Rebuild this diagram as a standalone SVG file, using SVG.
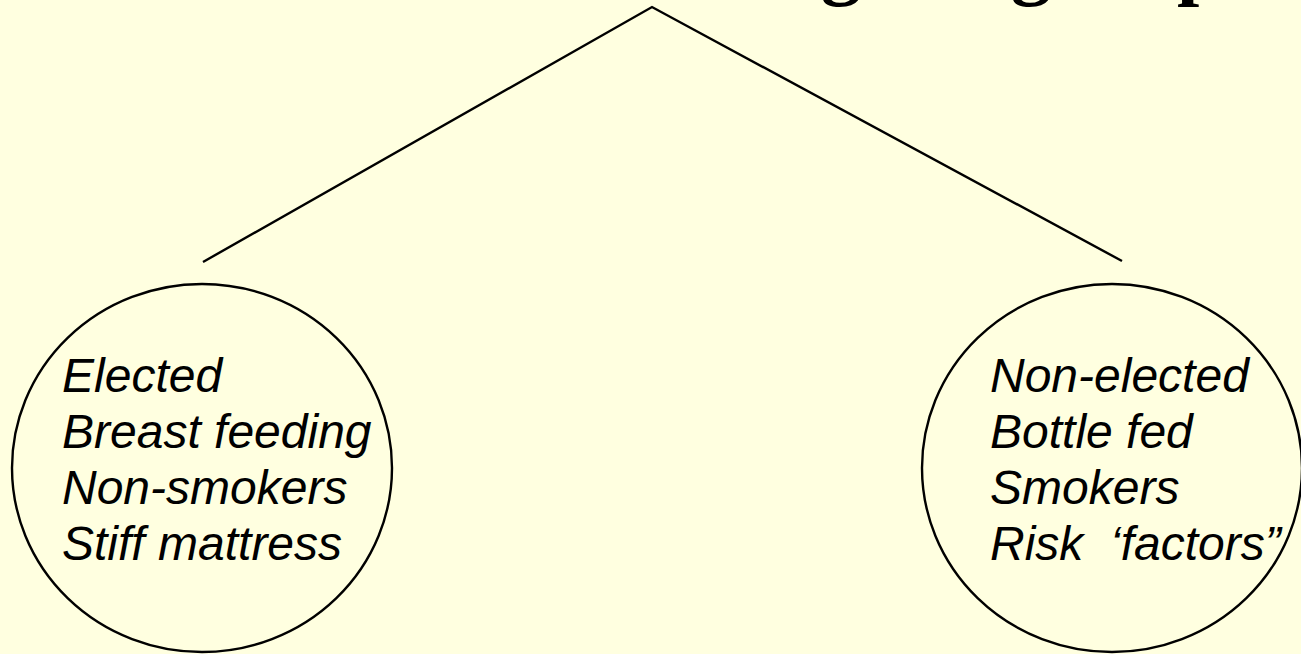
<svg xmlns="http://www.w3.org/2000/svg" width="1301" height="654" viewBox="0 0 1301 654">
<style>
.bg{fill:#FFFFE0}
.conn{stroke:#000;stroke-width:2.4;fill:none;stroke-linecap:butt}
.node{fill:#FFFFE0;stroke:#000;stroke-width:2.4}
.lbl{font-family:"Liberation Sans",Arial,sans-serif;font-style:italic;font-size:48px;fill:#000}
.title{font-family:"Liberation Serif","Times New Roman",serif;font-weight:bold;font-size:80px;fill:#000}
</style>
<rect class="bg" x="0" y="0" width="1301" height="654"/>
<g id="title">
<text class="title" y="-10"><tspan x="821">g</tspan><tspan x="1011">g</tspan><tspan x="1177">p</tspan></text>
</g>
<g id="connectors">
<polyline class="conn" points="203,262 652,7 1122,261"/>
</g>
<g id="node-left">
<ellipse class="node" cx="202" cy="468" rx="190" ry="184"/>
<text class="lbl"><tspan x="62" y="392">Elected</tspan><tspan x="62" y="448">Breast feeding</tspan><tspan x="62" y="504">Non-smokers</tspan><tspan x="62" y="560">Stiff mattress</tspan></text>
</g>
<g id="node-right">
<ellipse class="node" cx="1112" cy="468" rx="190" ry="184"/>
<text class="lbl"><tspan x="990" y="392">Non-elected</tspan><tspan x="990" y="448">Bottle fed</tspan><tspan x="990" y="504">Smokers</tspan><tspan x="990" y="560">Risk&#160; ‘factors”</tspan></text>
</g>
</svg>
